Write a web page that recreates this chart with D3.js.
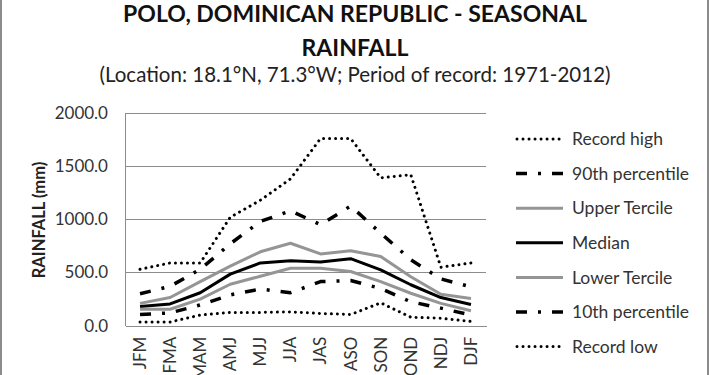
<!DOCTYPE html>
<html>
<head>
<meta charset="utf-8">
<script src="https://cdn.jsdelivr.net/npm/d3@7"></script>
<style>
  html, body { margin: 0; padding: 0; background: #fff; }
  svg { display: block; }
  text { font-family: Lato, "Open Sans", sans-serif; }
</style>
</head>
<body>
<svg id="chart" width="710" height="375"></svg>
<script>
const seasons = ["JFM","FMA","MAM","AMJ","MJJ","JJA","JAS","ASO","SON","OND","NDJ","DJF"];
const recordHigh   = [530, 590, 590, 1020, 1180, 1380, 1760, 1760, 1390, 1420, 550, 590];
const p90          = [300, 370, 530, 770, 980, 1080, 950, 1125, 870, 620, 440, 365];
const upperTercile = [210, 265, 415, 560, 695, 775, 675, 705, 650, 460, 295, 255];
const median       = [180, 205, 310, 485, 590, 610, 600, 630, 525, 385, 265, 200];
const lowerTercile = [155, 155, 250, 390, 465, 540, 540, 510, 415, 305, 210, 140];
const p10          = [105, 120, 195, 290, 345, 310, 415, 425, 350, 225, 165, 100];
const recordLow    = [35, 35, 100, 125, 125, 130, 115, 105, 215, 80, 70, 40];
const yTicks = [0, 500, 1000, 1500, 2000];
const seriesNames = ["Record high","90th percentile","Upper Tercile","Median","Lower Tercile","10th percentile","Record low"];

const styles = {
  dotted:  {stroke: "#000", width: 3, dash: "0.01 6", cap: "round"},
  dashdot: {stroke: "#000", width: 3.5, dash: "11 11 3 11", cap: "butt"},
  gray:    {stroke: "#959595", width: 3, dash: null, cap: "butt"},
  black:   {stroke: "#000", width: 3, dash: null, cap: "butt"}
};
const series = [
  {name: seriesNames[0], values: recordHigh, st: styles.dotted},
  {name: seriesNames[1], values: p90, st: styles.dashdot},
  {name: seriesNames[2], values: upperTercile, st: styles.gray},
  {name: seriesNames[3], values: median, st: styles.black},
  {name: seriesNames[4], values: lowerTercile, st: styles.gray},
  {name: seriesNames[5], values: p10, st: styles.dashdot},
  {name: seriesNames[6], values: recordLow, st: styles.dotted}
];

const svg = d3.select("#chart");
// outer border
svg.append("rect").attr("x", 1).attr("y", -5).attr("width", 707).attr("height", 390)
  .attr("fill", "none").attr("stroke", "#8c8c8c").attr("stroke-width", 2);

const plotL = 125, plotR = 486, plotT = 113, plotB = 325.7;
const x = d3.scaleBand().domain(seasons).range([plotL, plotR]);
const y = d3.scaleLinear().domain([0, 2000]).range([plotB, plotT]);
const cx = d => x(d) + x.bandwidth() / 2;

// gridlines
svg.append("g").selectAll("line").data(yTicks.filter(t => t > 0)).join("line")
  .attr("x1", plotL).attr("x2", plotR).attr("y1", d => y(d)).attr("y2", d => y(d))
  .attr("stroke", "#8c8c8c").attr("stroke-width", 1).attr("shape-rendering", "crispEdges");

// y axis
const yAxis = svg.append("g").attr("transform", `translate(${plotL},0)`)
  .call(d3.axisLeft(y).tickValues(yTicks).tickFormat(d3.format(".1f")).tickSize(0).tickPadding(17));
yAxis.select(".domain").attr("stroke", "#8c8c8c").attr("shape-rendering", "crispEdges");
yAxis.selectAll("text").attr("font-size", 17).attr("fill", "#333").attr("font-family", "Lato");

// x axis
const xAxis = svg.append("g").attr("transform", `translate(0,${plotB})`)
  .call(d3.axisBottom(x).tickSize(0).tickPadding(0));
xAxis.select(".domain").attr("stroke", "#8c8c8c").attr("shape-rendering", "crispEdges");
xAxis.selectAll("text")
  .attr("font-size", 17).attr("fill", "#333").attr("font-family", "Lato")
  .attr("transform", "rotate(-90)")
  .attr("text-anchor", "end").attr("dy", "0.35em").attr("x", -11).attr("y", 0);

// lines
const line = d3.line().x((d, i) => cx(seasons[i])).y(d => y(d));
svg.append("g").selectAll("path").data(series).join("path")
  .attr("d", d => line(d.values))
  .attr("fill", "none")
  .attr("stroke", d => d.st.stroke)
  .attr("stroke-width", d => d.st.width)
  .attr("stroke-dasharray", d => d.st.dash)
  .attr("stroke-linecap", d => d.st.cap)
  .attr("stroke-linejoin", "round");

// legend
const lg = svg.append("g");
const rowY = i => 139 + i * 34.6;
lg.selectAll("line").data(series).join("line")
  .attr("x1", d => d.st.cap === "round" ? 517 : 516).attr("x2", 563)
  .attr("y1", (d, i) => rowY(i)).attr("y2", (d, i) => rowY(i))
  .attr("stroke", d => d.st.stroke)
  .attr("stroke-width", d => d.st.width)
  .attr("stroke-dasharray", d => d.st.dash)
  .attr("stroke-linecap", d => d.st.cap);
lg.selectAll("text").data(series).join("text")
  .attr("x", 572).attr("y", (d, i) => rowY(i)).attr("dy", "0.35em")
  .attr("font-size", 17.5).attr("fill", "#333")
  .text(d => d.name);

// titles
svg.append("text").attr("x", 355).attr("y", 22).attr("text-anchor", "middle")
  .attr("font-size", 23).attr("font-weight", "bold").attr("fill", "#111")
  .text("POLO, DOMINICAN REPUBLIC - SEASONAL");
svg.append("text").attr("x", 355).attr("y", 56).attr("text-anchor", "middle")
  .attr("font-size", 23).attr("font-weight", "bold").attr("fill", "#111")
  .text("RAINFALL");
svg.append("text").attr("x", 355).attr("y", 82).attr("text-anchor", "middle")
  .attr("font-size", 20.5).attr("fill", "#222")
  .text("(Location: 18.1°N, 71.3°W; Period of record: 1971-2012)");
svg.append("text").attr("transform", "translate(45,220) rotate(-90)")
  .attr("text-anchor", "middle")
  .attr("font-size", 16.5).attr("font-weight", "bold").attr("fill", "#222")
  .text("RAINFALL (mm)");
</script>
</body>
</html>
